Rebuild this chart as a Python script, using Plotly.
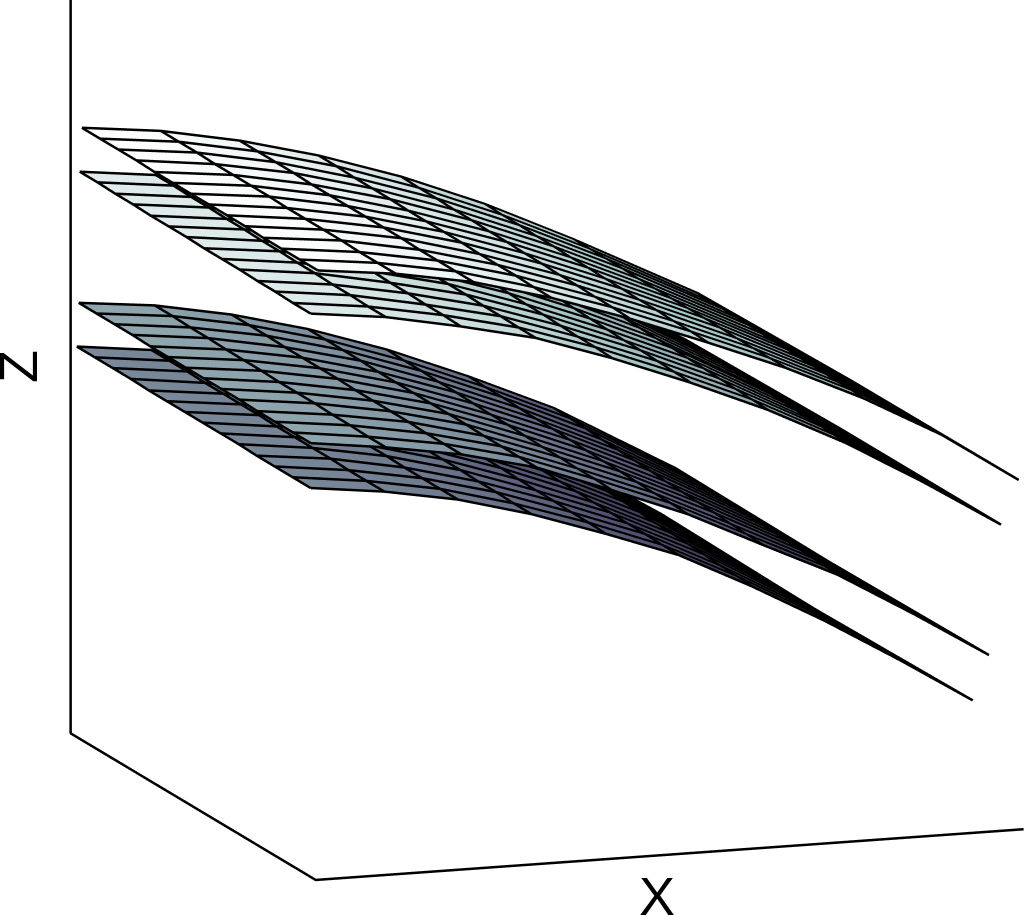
import numpy as np
import plotly.graph_objects as go

# bone colormap stops
bone = [[0, "rgb(0,0,0)"], [0.375, "rgb(81,81,113)"], [0.75, "rgb(166,198,198)"], [1, "rgb(255,255,255)"]]

# position of each mesh row between front edge (0) and back edge (1)
row_pos = [0, 0.077, 0.154, 0.231, 0.308, 0.385, 0.462, 0.538, 0.615, 0.692, 0.769, 0.846, 0.923, 1]

# surface A (top)
x_a = [0.003, 0.113, 0.223, 0.333, 0.444, 0.554, 0.664, 0.774, 0.884, 0.993]
w_a = [0.963, 0.959, 0.955, 0.951, 0.934, 0.910, 0.869, 0.676, 0.369, 0]
z_a = [
    [.828, .816, .797, .768, .732, .692, .650, .601, .544, .475],
    [.828, .816, .797, .768, .733, .693, .650, .602, .544, .475],
    [.828, .816, .797, .769, .733, .693, .650, .602, .544, .475],
    [.828, .817, .797, .769, .734, .694, .650, .603, .544, .475],
    [.829, .817, .798, .769, .734, .694, .651, .603, .544, .475],
    [.829, .817, .798, .770, .735, .695, .651, .604, .544, .475],
    [.829, .817, .798, .770, .735, .695, .651, .605, .544, .475],
    [.829, .818, .798, .770, .736, .696, .651, .605, .544, .475],
    [.829, .818, .798, .770, .736, .696, .651, .606, .544, .475],
    [.829, .818, .798, .771, .737, .697, .651, .607, .544, .475],
    [.830, .818, .799, .771, .737, .697, .652, .607, .544, .475],
    [.830, .819, .799, .771, .738, .698, .652, .608, .544, .475],
    [.830, .819, .799, .772, .738, .698, .652, .608, .544, .475],
    [.830, .819, .799, .772, .739, .699, .652, .609, .544, .475],
]

# surface B
x_b = [-0.007, 0.099, 0.205, 0.311, 0.419, 0.530, 0.638, 0.749, 0.859, 0.968]
w_b = [0.943, 0.939, 0.934, 0.930, 0.914, 0.889, 0.848, 0.656, 0.348, 0]
z_b = [
    [.770, .758, .738, .715, .680, .639, .595, .542, .481, .416],
    [.770, .758, .739, .715, .681, .640, .596, .543, .481, .416],
    [.771, .759, .739, .716, .681, .641, .597, .544, .482, .416],
    [.771, .759, .740, .716, .682, .642, .598, .544, .482, .416],
    [.772, .760, .740, .717, .683, .642, .599, .545, .483, .416],
    [.772, .760, .741, .717, .683, .643, .600, .546, .483, .416],
    [.772, .761, .741, .717, .684, .644, .601, .547, .483, .416],
    [.773, .761, .742, .718, .685, .645, .601, .547, .484, .416],
    [.773, .762, .742, .718, .686, .646, .602, .548, .484, .416],
    [.773, .762, .743, .718, .686, .647, .603, .549, .484, .416],
    [.774, .763, .743, .719, .687, .647, .604, .550, .485, .416],
    [.774, .763, .744, .719, .688, .648, .605, .550, .485, .416],
    [.775, .764, .744, .720, .688, .649, .606, .551, .486, .416],
    [.775, .764, .745, .720, .689, .650, .607, .552, .486, .416],
]

# surface C
x_c = [-0.007, 0.099, 0.206, 0.312, 0.418, 0.525, 0.631, 0.737, 0.845, 0.951]
w_c = [0.947, 0.943, 0.939, 0.934, 0.918, 0.893, 0.852, 0.660, 0.352, 0]
z_c = [
    [.594, .581, .564, .539, .501, .461, .412, .364, .303, .240],
    [.594, .581, .564, .539, .502, .462, .413, .365, .303, .240],
    [.594, .582, .564, .539, .502, .462, .414, .366, .303, .240],
    [.594, .582, .565, .539, .503, .463, .416, .367, .303, .240],
    [.595, .583, .565, .540, .503, .464, .417, .368, .304, .240],
    [.595, .583, .565, .540, .504, .464, .418, .369, .304, .240],
    [.595, .583, .565, .540, .505, .465, .419, .370, .304, .240],
    [.595, .584, .566, .540, .505, .466, .421, .371, .304, .240],
    [.595, .584, .566, .540, .506, .467, .422, .372, .304, .240],
    [.595, .584, .566, .540, .507, .467, .423, .373, .304, .240],
    [.596, .585, .566, .541, .507, .468, .424, .374, .305, .240],
    [.596, .585, .567, .541, .508, .469, .426, .375, .305, .240],
    [.596, .586, .567, .541, .508, .469, .427, .376, .305, .240],
    [.596, .586, .567, .541, .509, .470, .428, .377, .305, .240],
]

# surface D (bottom)
x_d = [-0.007, 0.097, 0.201, 0.305, 0.410, 0.513, 0.617, 0.720, 0.825, 0.928]
w_d = [0.955, 0.951, 0.947, 0.943, 0.926, 0.902, 0.861, 0.668, 0.361, 0]
z_d = [
    [.533, .521, .503, .476, .442, .406, .356, .302, .242, .180],
    [.533, .521, .503, .476, .443, .406, .357, .303, .242, .180],
    [.533, .521, .503, .477, .443, .407, .358, .304, .242, .180],
    [.533, .522, .503, .477, .444, .407, .360, .305, .242, .180],
    [.534, .522, .504, .478, .444, .408, .361, .306, .242, .180],
    [.534, .522, .504, .478, .445, .408, .362, .307, .242, .180],
    [.534, .522, .504, .478, .446, .409, .363, .308, .242, .180],
    [.534, .523, .504, .479, .446, .409, .365, .308, .242, .180],
    [.534, .523, .504, .479, .447, .410, .366, .309, .242, .180],
    [.534, .523, .504, .479, .448, .410, .367, .310, .242, .180],
    [.535, .523, .505, .480, .448, .411, .368, .311, .242, .180],
    [.535, .524, .505, .480, .449, .411, .370, .312, .242, .180],
    [.535, .524, .505, .481, .449, .412, .371, .313, .242, .180],
    [.535, .524, .505, .481, .450, .412, .372, .314, .242, .180],
]

# floor and back edges of the box
edge_x = [1, 0, 0, 0]
edge_y = [0, 0, 1, 1]
edge_z = [0, 0, 0, 1]

surfaces = [(x_a, w_a, z_a), (x_b, w_b, z_b), (x_c, w_c, z_c), (x_d, w_d, z_d)]

# mesh lines get pulled toward the camera a little, otherwise the surface
# eats half their width at this flat viewing angle (no shift on screen)
toward_eye = (-0.0038, -0.0111, 0.0025)


def mesh_lines(xg, yg, zg):
    lx, ly, lz = [], [], []
    for i in range(xg.shape[0]):
        lx += list(xg[i]) + [None]
        ly += list(yg[i]) + [None]
        lz += list(zg[i]) + [None]
    for j in range(xg.shape[1]):
        lx += list(xg[:, j]) + [None]
        ly += list(yg[:, j]) + [None]
        lz += list(zg[:, j]) + [None]
    return lx, ly, lz


fig = go.Figure()
for xs, ws, zs in surfaces:
    xg = np.tile(xs, (len(row_pos), 1))
    yg = np.outer(row_pos, ws)
    zg = np.array(zs)
    fig.add_trace(go.Surface(
        x=xg, y=yg, z=zg, surfacecolor=zg, colorscale=bone, cmin=0.162, cmax=0.83,
        showscale=False, hoverinfo="skip",
        lighting=dict(ambient=1, diffuse=0, specular=0, roughness=1, fresnel=0),
    ))
    lx, ly, lz = mesh_lines(xg + toward_eye[0], yg + toward_eye[1], zg + toward_eye[2])
    fig.add_trace(go.Scatter3d(
        x=lx, y=ly, z=lz, mode="lines", line=dict(color="black", width=5),
        hoverinfo="skip", showlegend=False,
    ))

fig.add_trace(go.Scatter3d(
    x=edge_x, y=edge_y, z=edge_z, mode="lines", line=dict(color="black", width=5),
    hoverinfo="skip", showlegend=False,
))

hidden = dict(visible=False, range=[-0.02, 1.02])
label_font = dict(family="Liberation Sans", size=54, color="black")
fig.update_layout(
    width=1024, height=915, margin=dict(l=0, r=0, t=0, b=0),
    paper_bgcolor="white", showlegend=False,
    scene=dict(
        domain=dict(x=[0, 1], y=[0, 1]),
        xaxis=hidden, yaxis=hidden, zaxis=hidden,
        aspectmode="manual", aspectratio=dict(x=1.703, y=1.703, z=1.71),
        camera=dict(
            projection=dict(type="orthographic"),
            up=dict(x=0, y=0, z=1),
            center=dict(x=-0.0794, y=0.0055, z=-0.0943),
            eye=dict(x=-0.879, y=-2.305, z=0.4232),
        ),
    ),
    annotations=[
        dict(text="X", x=657 / 1024, y=1 - 896 / 915, xref="paper", yref="paper", showarrow=False,
             xanchor="center", yanchor="middle", font=label_font),
        dict(text="Z", x=18 / 1024, y=1 - 367 / 915, xref="paper", yref="paper", showarrow=False,
             xanchor="center", yanchor="middle", textangle=-90, font=label_font),
    ],
)

# the page's default body margin would push the plot 8px in
fig.write_html("out.html", config={"displayModeBar": False},
               post_script="document.body.style.margin='0';document.documentElement.style.overflow='hidden';")
